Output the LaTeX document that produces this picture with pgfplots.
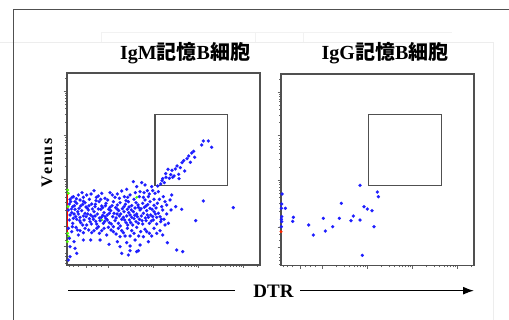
\documentclass[border=0pt]{standalone}
\usepackage{pgfplots}
\pgfplotsset{compat=1.18}
\usepackage{fontspec}
\setmainfont{Liberation Serif}
\newfontfamily\cjk{Noto Sans CJK JP}
\usetikzlibrary{arrows.meta}
\definecolor{dot}{RGB}{30,30,255}
\definecolor{frm}{RGB}{80,80,80}
\pgfplotsset{
  panel/.style={
    width=193.3pt, height=191.7pt, scale only axis,
    xmin=110, xmax=690, ymin=40, ymax=615, y dir=reverse,
    axis line style={draw=frm, line width=1.6pt},
    xtick={170,235,370,505,640},
    minor xtick={118,130,145,185,200,215,275.6,299.4,316.3,329.4,340,349,357,364,410.6,434.4,451.3,464.4,475,484,492,499,545.6,569.4,586.3,599.4,610,619,627,634,680.6},
    ytick={95,225,358,500,560},
    minor ytick={55.6,100,106.7,114.3,123,133.4,146,162.5,185.6,233,239.7,247.3,256,266.4,279,295.5,318.6,365,372,379,388,398,411,427.5,450.6,520,540,580,590,600,610},
    xticklabels={}, yticklabels={},
    tick align=outside, tick pos=left,
    major tick length=3pt, minor tick length=1.6pt,
    major tick style={draw=gray!80!black, line width=0.5pt},
    minor tick style={draw=gray!80!black, line width=0.4pt},
    clip=true,
  },
  pts/.style={color=dot, only marks, mark=*, mark size=1.6pt, mark options={draw=dot, fill=dot, line width=0.2pt}},
  gate/.style={draw=frm, line width=1.6pt, no marks},
}
\begin{document}
\begin{tikzpicture}
\path[use as bounding box] (0pt,0pt) rectangle (509pt,320pt);
% faint background lines
\draw[gray!14, line width=0.6pt] (0pt,277.7pt)--(493pt,277.7pt) (493pt,277.7pt)--(493pt,0pt);
\draw[gray!10, line width=0.6pt] (101.7pt,277.7pt)--(101.7pt,288pt)--(452pt,288pt) (255pt,277.7pt)--(255pt,288pt) (303pt,277.7pt)--(303pt,288pt);
% outer frame
\draw[frm, line width=1pt] (13.3pt,0pt)--(13.3pt,310pt)--(509pt,310pt);

\begin{axis}[panel, at={(66.7pt,55pt)}, anchor=south west]
\addplot[gate] coordinates {(375,163)(593,163)(593,377)(375,377)(375,163)};
\addplot[red, line width=1.1pt, no marks] coordinates {(112,398)(112,522)};
\addplot[color=green!70!yellow, only marks, mark=*, mark size=1.2pt] coordinates {
(113,390)(115,400)(114,440)(113,520)(116,530)(330,445)(215,480)(320,412)(112,545)};
\addplot[pts] coordinates {
(130,410)(145,405)(160,412)(192,392)(215,400)(240,398)(262,402)(275,393)(290,388)(310,365)(320,380)(335,368)(345,375)(352,392)(365,380)(330,395)(300,405)(283,410)(255,412)(225,415)(205,408)(178,418)(150,420)(135,425)(120,418)
(118,432)(128,440)(140,430)(152,438)(165,428)(172,445)(185,432)(195,440)(207,425)(215,438)(228,430)(240,442)(250,425)(262,435)(270,428)(282,440)(295,425)(305,437)(318,428)(325,442)(338,430)(348,438)(360,425)(372,436)(382,430)(395,440)(405,425)(360,445)(345,420)(312,418)(288,422)(233,420)(198,422)(160,424)
(115,450)(125,458)(135,448)(145,462)(155,452)(165,460)(175,450)(182,465)(192,455)(202,462)(212,448)(222,458)(232,465)(242,452)(252,460)(262,448)(272,462)(282,455)(292,448)(300,465)(310,455)(320,462)(330,450)(340,460)(350,452)(362,465)(372,455)(385,460)(398,450)(410,462)(137,470)(188,470)(248,470)(305,472)(355,472)(290,468)(225,470)(160,468)
(118,480)(128,490)(140,478)(152,488)(162,480)(170,495)(180,485)(190,478)(200,492)(210,482)(220,490)(232,480)(244,492)(255,482)(265,490)(275,478)(288,488)(298,480)(308,495)(318,485)(328,478)(338,492)(348,482)(358,490)(370,480)(380,492)(392,485)(402,478)(415,490)
(115,505)(125,515)(138,502)(150,512)(165,505)(185,518)(200,505)(215,512)(235,502)(250,515)(265,505)(280,518)(292,505)(305,512)(320,502)(332,515)(345,508)(358,520)(372,505)(390,512)(145,525)(230,525)(300,528)(340,530)(270,530)
(118,535)(132,545)(160,540)(182,540)(210,540)(237,553)(262,545)(290,548)(315,540)(330,555)(355,545)(412,548)(120,560)(270,560)(300,558)
(135,565)(140,580)(120,590)(275,580)(295,585)(300,572)(320,575)(325,572)(440,570)(458,575)(115,600)
(122,425)(133,437)(147,445)(158,433)(168,441)(177,437)(187,447)(196,433)(205,447)(218,443)(226,437)(236,448)(246,437)(257,443)(266,452)(277,446)(286,433)(297,441)(304,450)(315,444)(324,435)(333,446)(343,442)(353,434)(366,448)(378,444)(120,465)(130,475)(143,455)(150,472)(168,470)(178,476)(195,468)(208,474)(218,466)(228,476)(238,460)(258,474)(268,468)(280,472)(296,458)(312,476)(322,470)(334,468)(346,474)(368,470)(380,472)(390,470)
(126,412)(139,416)(156,398)(170,405)(183,402)(199,412)(212,418)(247,405)(268,415)(293,412)(316,398)(328,410)(340,412)(355,410)(372,418)(388,418)(410,435)(423,450)
(124,447)(132,462)(149,482)(158,495)(173,462)(184,492)(197,484)(205,500)(214,472)(224,484)(238,488)(250,500)(261,462)(271,498)(284,480)(293,495)(302,488)(314,466)(325,490)(336,482)(352,465)(364,483)(376,462)(394,478)(405,495)
(127,500)(142,510)(160,518)(176,510)(192,512)(208,520)(222,505)(243,510)(258,522)(275,512)(285,528)(312,520)(326,528)(350,515)(365,528)(380,520)(398,525)
(437,440)(455,448)(420,420)(425,405)(400,410)(385,395)(375,400)(368,392)(358,402)(342,398)
(383,378)(396,362)(398,356)(408,352)(407,341)(414,328)(422,344)(426,331)(432,348)(436,327)(441,318)(446,343)(451,323)(456,308)(461,302)(464,333)(471,296)(476,288)(481,307)(485,279)(491,274)(494,292)(515,255)(520,243)(535,243)(545,262)(392,372)(418,355)(447,356)(403,368)(428,352)
(610,443)(520,423)(497,482)
};
\end{axis}

\begin{axis}[panel, at={(280.7pt,54.3pt)}, anchor=south west]
\addplot[gate] coordinates {(373,161)(593,161)(593,375)(373,375)(373,161)};
\addplot[color=red!70!orange, only marks, mark=*, mark size=1.3pt] coordinates {(111,513)};
\addplot[color=black, only marks, mark=*, mark size=1.3pt] coordinates {(109,558)};
\addplot[pts] coordinates {
(348,374)(400,394)(403,408)(360,438)(370,445)(384,450)(390,498)(348,478)(328,466)(321,480)(292,428)(286,473)(266,498)(244,511)(238,473)(208,523)(194,493)(148,470)(146,482)(124,443)(114,400)(113,430)(112,443)(113,468)(112,476)(113,483)(112,498)(355,584)
};
\end{axis}

% titles and labels
\node at (185pt,267pt) {\fontsize{20}{20}\selectfont\bfseries IgM{\cjk\bfseries 記憶}B{\cjk\bfseries 細胞}};
\node at (385pt,267pt) {\fontsize{20}{20}\selectfont\bfseries IgG{\cjk\bfseries 記憶}B{\cjk\bfseries 細胞}};
\node[rotate=90] at (47pt,157pt) {\fontsize{16}{16}\selectfont\bfseries V\hspace{1.5pt}e\hspace{1.5pt}n\hspace{1.5pt}u\hspace{1.5pt}s};
\node at (273.5pt,29pt) {\fontsize{19}{19}\selectfont\bfseries DTR};
\draw[line width=1.3pt] (68pt,29.3pt)--(235pt,29.3pt);
\draw[line width=1.3pt,-{Latex[length=11pt,width=8pt]}] (300pt,29.3pt)--(474pt,29.3pt);
\end{tikzpicture}
\end{document}
